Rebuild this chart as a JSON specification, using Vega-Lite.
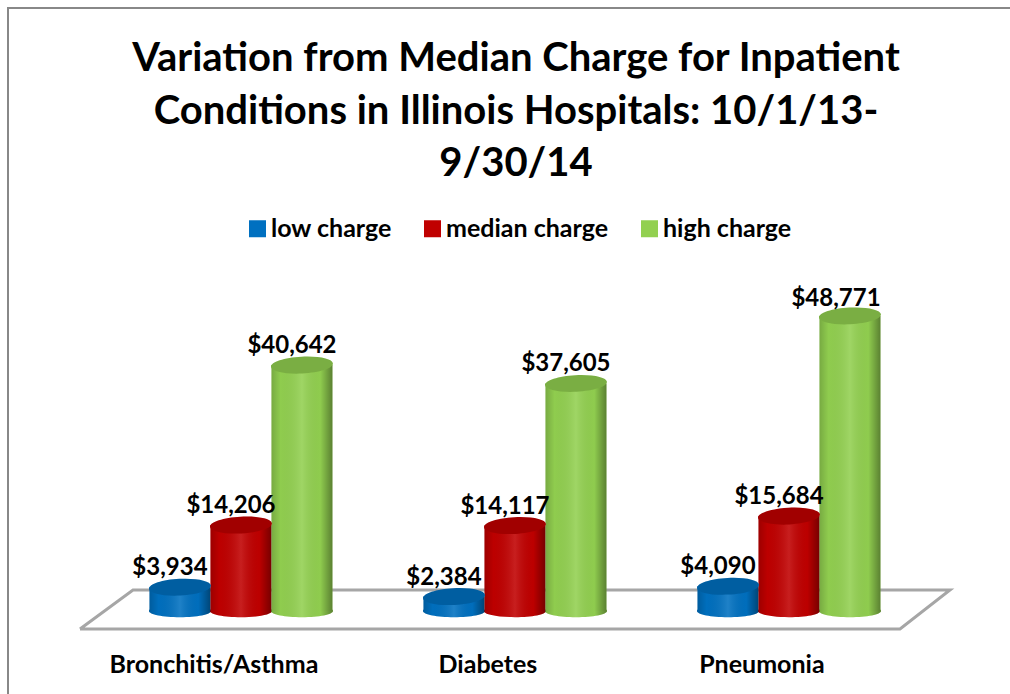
{
"$schema":"https://vega.github.io/schema/vega-lite/v6.json",
"width":1010,"height":694,"padding":0,"autosize":{"type":"none"},"background":"white",
"config":{"view":{"stroke":null},"font":"Lato"},
"title":{"text":["Variation from Median Charge for Inpatient","Conditions in Illinois Hospitals:  10/1/13-","9/30/14"],"orient":"top","frame":"group","anchor":"middle","offset":-184,"dx":11,"font":"Lato","fontSize":40,"fontWeight":"bold","color":"#000000","lineHeight":52.5},
"data":{"values":[
{"condition":"Bronchitis/Asthma","series":"low charge","charge":3934},
{"condition":"Bronchitis/Asthma","series":"median charge","charge":14206},
{"condition":"Bronchitis/Asthma","series":"high charge","charge":40642},
{"condition":"Diabetes","series":"low charge","charge":2384},
{"condition":"Diabetes","series":"median charge","charge":14117},
{"condition":"Diabetes","series":"high charge","charge":37605},
{"condition":"Pneumonia","series":"low charge","charge":4090},
{"condition":"Pneumonia","series":"median charge","charge":15684},
{"condition":"Pneumonia","series":"high charge","charge":48771}
]},
"resolve":{"scale":{"x":"independent"},"axis":{"x":"independent"}},
"layer":[
{"data":{"values":[{"px":8,"v":-13700,"o":1},{"px":8,"v":99669,"o":2},{"px":1010,"v":99669,"o":3}]},
 "mark":{"type":"line","stroke":"#888888","strokeWidth":2,"clip":false},
 "encoding":{"x":{"field":"px","type":"quantitative","scale":{"domain":[0,1010]},"axis":null},"y":{"field":"v","type":"quantitative","scale":{"domain":[-13719,100992]},"axis":null},"order":{"field":"o"}}},
{"data":{"values":[{"px":80,"v":-2975,"o":1},{"px":133,"v":3471,"o":2},{"px":950,"v":3471,"o":3},{"px":900,"v":-2975,"o":4},{"px":80,"v":-2975,"o":5}]},
 "mark":{"type":"line","stroke":"#a6a6a6","strokeWidth":3,"strokeJoin":"miter"},
 "encoding":{"x":{"field":"px","type":"quantitative","scale":{"domain":[0,1010]},"axis":null},"y":{"field":"v","type":"quantitative","scale":{"domain":[-13719,100992]},"axis":null},"order":{"field":"o"}}},
{"encoding":{
  "x":{"field":"condition","type":"nominal","sort":["Bronchitis/Asthma","Diabetes","Pneumonia"],"scale":{"type":"band","paddingInner":0,"paddingOuter":0.343,"align":0.553},
   "axis":{"title":null,"orient":"bottom","domain":false,"ticks":false,"labelAngle":0,"offset":-30,"labelOffset":-27,"labelFont":"Lato","labelFontWeight":"bold","labelFontSize":25,"labelColor":"#000000","labelBaseline":"middle","labelPadding":0,"labelLimit":300}},
  "xOffset":{"field":"series","type":"nominal","sort":["low charge","median charge","high charge"],"scale":{"paddingInner":0,"paddingOuter":0.746}},
  "y":{"field":"charge","type":"quantitative","scale":{"domain":[-13719,100992]},"axis":null}
 },
 "layer":[
 {"mark":{"type":"point","filled":true,"opacity":1,"size":3844,"shape":"M-1,0A1,0.2,0,1,1,1,0A1,0.2,0,1,1,-1,0Z"},
  "encoding":{"y":{"datum":0,"type":"quantitative"},"color":{"field":"series","type":"nominal","scale":{"domain":["low charge","median charge","high charge"],"range":["#0070C0","#C00000","#92D050"]},
   "legend":{"title":null,"orient":"none","legendX":245,"legendY":216,"direction":"horizontal","symbolType":"square","symbolSize":289,"symbolStrokeWidth":0,"labelFont":"Lato","labelFontWeight":"bold","labelFontSize":25,"labelColor":"#000000","columnPadding":28,"labelOffset":1,"labelLimit":240}}}},
 {"mark":{"type":"point","filled":true,"opacity":1,"size":3844,"shape":"M-1,0A1,0.2,0,1,1,1,0A1,0.2,0,1,1,-1,0Z","fill":{"x1":0,"y1":0,"x2":1,"y2":0,"gradient":"linear","stops":[{"offset":0,"color":"rgba(0,0,0,0.18)"},{"offset":0.15,"color":"rgba(0,0,0,0.02)"},{"offset":0.5,"color":"rgba(255,255,255,0.12)"},{"offset":0.8,"color":"rgba(0,0,0,0.02)"},{"offset":1,"color":"rgba(0,0,0,0.38)"}]}},
  "encoding":{"y":{"datum":0,"type":"quantitative"}}},
 {"mark":{"type":"bar"},
  "encoding":{"y2":{"datum":0},"color":{"field":"series","type":"nominal"}}},
 {"mark":{"type":"bar","fill":{"x1":0,"y1":0,"x2":1,"y2":0,"gradient":"linear","stops":[{"offset":0,"color":"rgba(0,0,0,0.18)"},{"offset":0.15,"color":"rgba(0,0,0,0.02)"},{"offset":0.5,"color":"rgba(255,255,255,0.12)"},{"offset":0.8,"color":"rgba(0,0,0,0.02)"},{"offset":1,"color":"rgba(0,0,0,0.38)"}]}},
  "encoding":{"y2":{"datum":0}}},
 {"mark":{"type":"point","filled":true,"opacity":1,"size":3844,"angle":-3,"shape":"M-1,0A1,0.27,0,1,1,1,0A1,0.27,0,1,1,-1,0Z"},
  "encoding":{"color":{"field":"series","type":"nominal"}}},
 {"mark":{"type":"point","filled":true,"fill":"#000000","opacity":0.16,"size":3844,"angle":-3,"shape":"M-1,0A1,0.27,0,1,1,1,0A1,0.27,0,1,1,-1,0Z"}},
 {"transform":[{"filter":"datum.charge < 48000"}],
  "mark":{"type":"text","font":"Lato","fontWeight":"bold","fontSize":24,"color":"#000000","baseline":"middle","dx":-10,"dy":-19},
  "encoding":{"text":{"field":"charge","type":"quantitative","format":"$,.0f"}}},
 {"transform":[{"filter":"datum.charge >= 48000"}],
  "mark":{"type":"text","font":"Lato","fontWeight":"bold","fontSize":24,"color":"#000000","baseline":"middle","dx":-14,"dy":-17},
  "encoding":{"text":{"field":"charge","type":"quantitative","format":"$,.0f"}}}
 ]}
]
}
